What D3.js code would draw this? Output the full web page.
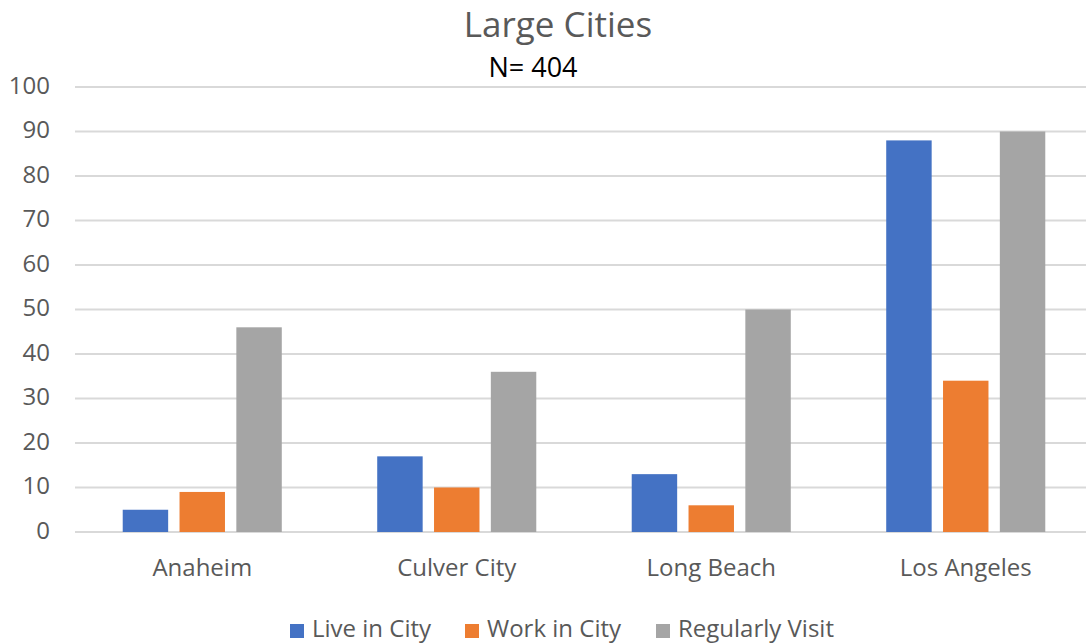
<!DOCTYPE html>
<html>
<head>
<meta charset="utf-8">
<script src="https://cdn.jsdelivr.net/npm/d3@7"></script>
<style>
  html, body { margin: 0; padding: 0; background: #fff; }
  svg { display: block; font-family: "Open Sans", sans-serif; }
</style>
</head>
<body>
<svg id="chart" width="1086" height="644"></svg>
<script>
// Chart data
const cities = ["Anaheim", "Culver City", "Long Beach", "Los Angeles"];
const seriesNames = ["Live in City", "Work in City", "Regularly Visit"];
const liveInCity = [5, 17, 13, 88];
const workInCity = [9, 10, 6, 34];
const regularlyVisit = [46, 36, 50, 90];
const yTicks = [0, 10, 20, 30, 40, 50, 60, 70, 80, 90, 100];
const seriesColors = ["#4472C4", "#ED7D31", "#A5A5A5"];

const seriesValues = [liveInCity, workInCity, regularlyVisit];

const svg = d3.select("#chart");
const plot = { left: 75, right: 1093, top: 87, bottom: 532 };

const x0 = d3.scaleBand()
  .domain(cities)
  .range([plot.left, plot.right])
  .paddingInner(0.375)
  .paddingOuter(0.1875);

const x1 = d3.scaleBand()
  .domain(seriesNames)
  .range([0, x0.bandwidth()])
  .paddingInner(0.2);

const y = d3.scaleLinear().domain([0, 100]).range([plot.bottom, plot.top]);
const color = d3.scaleOrdinal().domain(seriesNames).range(seriesColors);

// Horizontal gridlines
svg.append("g")
  .selectAll("line")
  .data(yTicks)
  .join("line")
  .attr("x1", plot.left)
  .attr("x2", 1086)
  .attr("y1", d => y(d))
  .attr("y2", d => y(d))
  .attr("stroke", "#d9d9d9")
  .attr("stroke-width", 2);

// Y axis labels
const yAxis = d3.axisLeft(y).tickValues(yTicks).tickSize(0).tickPadding(0);
const yg = svg.append("g")
  .attr("transform", `translate(50,0)`)
  .call(yAxis);
yg.select(".domain").remove();
yg.selectAll("text")
  .attr("fill", "#595959")
  .attr("font-size", 24)
  .attr("dy", "0")
  .attr("dominant-baseline", "middle")
  .attr("font-family", "Open Sans, sans-serif");

// Bars
const rows = cities.map((c, i) => ({
  city: c,
  values: seriesNames.map((s, j) => ({ series: s, value: seriesValues[j][i] }))
}));

svg.append("g")
  .selectAll("g")
  .data(rows)
  .join("g")
  .attr("transform", d => `translate(${x0(d.city)},0)`)
  .selectAll("rect")
  .data(d => d.values)
  .join("rect")
  .attr("x", d => x1(d.series))
  .attr("width", x1.bandwidth())
  .attr("y", d => y(d.value))
  .attr("height", d => y(0) - y(d.value))
  .attr("fill", d => color(d.series));

// X axis labels
const xAxis = d3.axisBottom(x0).tickSize(0).tickPadding(0);
const xg = svg.append("g")
  .attr("transform", `translate(0,${plot.bottom + 38})`)
  .call(xAxis);
xg.select(".domain").remove();
xg.selectAll("text")
  .attr("fill", "#595959")
  .attr("font-size", 24)
  .attr("dy", "0")
  .attr("dominant-baseline", "middle")
  .attr("font-family", "Open Sans, sans-serif");

// Titles
svg.append("text")
  .attr("x", 558)
  .attr("y", 28)
  .attr("text-anchor", "middle")
  .attr("dominant-baseline", "middle")
  .attr("fill", "#595959")
  .attr("font-size", 35)
  .text("Large Cities");

svg.append("text")
  .attr("x", 533)
  .attr("y", 70)
  .attr("text-anchor", "middle")
  .attr("dominant-baseline", "middle")
  .attr("fill", "#000")
  .attr("font-size", 27)
  .text("N= 404");

// Legend
const legendX = [290, 465, 656];
const legend = svg.append("g")
  .selectAll("g")
  .data(seriesNames)
  .join("g")
  .attr("transform", (d, i) => `translate(${legendX[i]},631)`);
legend.append("rect")
  .attr("x", 0).attr("y", -7)
  .attr("width", 14).attr("height", 14)
  .attr("fill", d => color(d));
legend.append("text")
  .attr("x", 22)
  .attr("y", 0)
  .attr("dominant-baseline", "middle")
  .attr("fill", "#595959")
  .attr("font-size", 24)
  .text(d => d);
</script>
</body>
</html>
